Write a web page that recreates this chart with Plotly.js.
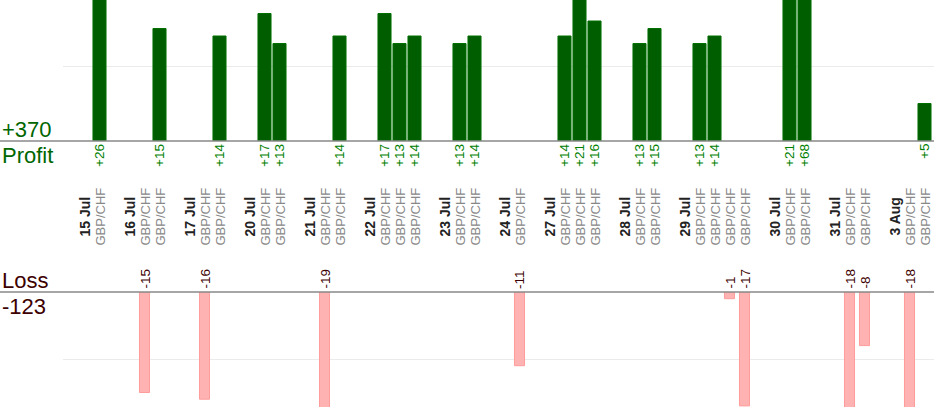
<!DOCTYPE html>
<html>
<head>
<meta charset="utf-8">
<script src="https://cdn.plot.ly/plotly-3.0.1.min.js"></script>
<style>
  html, body { margin: 0; padding: 0; background: #fff; }
  #chart { width: 934px; height: 420px; }
</style>
</head>
<body>
<div id="chart"></div>
<script>
// trade days and the result of every trade on them (in order)
const dates = ["15 Jul", "16 Jul", "17 Jul", "20 Jul", "21 Jul", "22 Jul", "23 Jul",
  "24 Jul", "27 Jul", "28 Jul", "29 Jul", "30 Jul", "31 Jul", "3 Aug"];
const tradesPerDate = [1, 2, 2, 2, 2, 3, 2, 1, 3, 2, 4, 2, 2, 2];
const pnl = [26, -15, 15, -16, 14, 17, 13, -19, 14, 17, 13, 14, 13, 14, -11,
  14, 21, 16, 13, 15, 13, 14, -1, -17, 21, 68, -18, -8, -18, 5];
const pair = "GBP/CHF";

const H = 420, W = 934;
const FONT = "Liberation Sans, Arial, sans-serif";
const py = (p) => 1 - p / H; // pixel row -> paper y

// lay out slots: date label, its trades, then one empty slot
var dateX = [], tradeX = [];
var slot = 0;
for (let d = 0; d < dates.length; d++) {
  dateX.push(slot);
  slot++;
  for (let t = 0; t < tradesPerDate[d]; t++) {
    tradeX.push(slot);
    slot++;
  }
  slot++;
}

var profX = [], profY = [], lossX = [], lossY = [];
for (let i = 0; i < pnl.length; i++) {
  if (pnl[i] > 0) { profX.push(tradeX[i]); profY.push(pnl[i]); }
  else { lossX.push(tradeX[i]); lossY.push(pnl[i]); }
}
var totalProfit = profY.reduce((a, b) => a + b, 0);
var totalLoss = lossY.reduce((a, b) => a + b, 0);

var trace1 = {
  x: profX, y: profY, type: "bar", width: 0.87,
  marker: { color: "#005e00", line: { color: "#007000", width: 1 } },
  hoverinfo: "skip", xaxis: "x", yaxis: "y",
};
var trace2 = {
  x: lossX, y: lossY, type: "bar", width: 0.67,
  marker: { color: "#ffb2b2", line: { color: "#ff9c9c", width: 1 } },
  hoverinfo: "skip", xaxis: "x2", yaxis: "y2",
};

var annotations = [];
// date + pair labels in the middle band
for (let d = 0; d < dates.length; d++) {
  annotations.push({
    x: dateX[d], y: py(217), xref: "x", yref: "paper", text: "<b>" + dates[d] + "</b>",
    textangle: -90, showarrow: false, xanchor: "center", yanchor: "middle",
    font: { family: FONT, size: 14, color: "#222" }, borderpad: 0,
  });
}
for (let i = 0; i < pnl.length; i++) {
  annotations.push({
    x: tradeX[i], y: py(217), xref: "x", yref: "paper", text: pair,
    textangle: -90, showarrow: false, xanchor: "center", yanchor: "middle",
    font: { family: FONT, size: 13, color: "#888" }, borderpad: 0,
  });
  if (pnl[i] > 0) {
    annotations.push({
      x: tradeX[i], y: py(143), xref: "x", yref: "paper", text: "+" + pnl[i],
      textangle: -90, showarrow: false, xanchor: "center", yanchor: "top",
      font: { family: FONT, size: 13.5, color: "#008000" }, borderpad: 0,
    });
  } else {
    annotations.push({
      x: tradeX[i], y: py(290), xref: "x", yref: "paper", text: String(pnl[i]),
      textangle: -90, showarrow: false, xanchor: "center", yanchor: "bottom",
      font: { family: FONT, size: 13.5, color: "#3d0000" }, borderpad: 0,
    });
  }
}
// totals on the left
annotations.push(
  { x: 0, y: py(144), xref: "paper", yref: "paper", text: "+" + totalProfit, showarrow: false,
    xanchor: "left", yanchor: "bottom", font: { family: FONT, size: 22, color: "#006600" } },
  { x: 0, y: py(141), xref: "paper", yref: "paper", text: "Profit", showarrow: false,
    xanchor: "left", yanchor: "top", font: { family: FONT, size: 22, color: "#006600" } },
  { x: 0, y: py(295), xref: "paper", yref: "paper", text: "Loss", showarrow: false,
    xanchor: "left", yanchor: "bottom", font: { family: FONT, size: 22, color: "#3d0000" } },
  { x: 0, y: py(292), xref: "paper", yref: "paper", text: String(totalLoss), showarrow: false,
    xanchor: "left", yanchor: "top", font: { family: FONT, size: 22, color: "#3d0000" } }
);

var xr = [-(84.5 - 63) / 15, (W - 84.5) / 15];
var axX = { domain: [63 / W, 1], range: xr, showgrid: false, zeroline: false,
  showticklabels: false, ticks: "", fixedrange: true };

var layout = {
  width: W, height: H,
  margin: { l: 0, r: 0, t: 0, b: 0 },
  paper_bgcolor: "#fff", plot_bgcolor: "rgba(0,0,0,0)",
  showlegend: false, bargap: 0,
  xaxis: Object.assign({ anchor: "y" }, axX),
  xaxis2: Object.assign({ anchor: "y2" }, axX),
  yaxis: { domain: [py(141), 1], range: [0, 141 / 7.5], tickvals: [10], showticklabels: false,
    gridcolor: "#ebebeb", zeroline: false, ticks: "" },
  yaxis2: { domain: [py(407), py(292)], range: [-(407 - 292) / 6.7, 0], tickvals: [-10],
    showticklabels: false, gridcolor: "#ebebeb", zeroline: false, ticks: "" },
  shapes: [
    { type: "line", xref: "paper", yref: "paper", x0: 0, x1: 1, y0: py(141), y1: py(141),
      line: { color: "#888", width: 1.5 } },
    { type: "line", xref: "paper", yref: "paper", x0: 0, x1: 1, y0: py(292), y1: py(292),
      line: { color: "#888", width: 1.5 } },
  ],
  annotations: annotations,
};

Plotly.newPlot("chart", [trace1, trace2], layout, { displayModeBar: false, staticPlot: true });
</script>
</body>
</html>
